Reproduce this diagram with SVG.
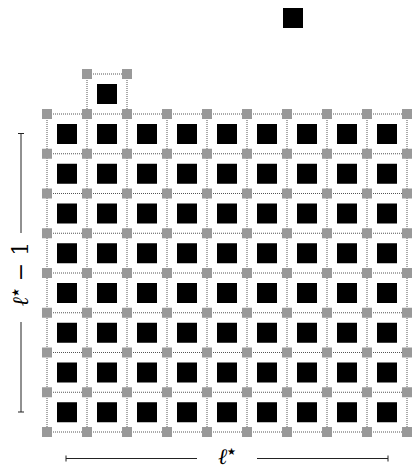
<svg xmlns="http://www.w3.org/2000/svg" xmlns:xlink="http://www.w3.org/1999/xlink" width="416" height="469" viewBox="0 0 416 469">
<style>
.grid{fill:none;stroke:#555;stroke-width:1;stroke-dasharray:1 1}
.bar{stroke:#222;stroke-width:1;fill:none}
.lbl{font-family:"DejaVu Serif","Liberation Serif",serif;font-style:italic;font-size:22px;fill:#000}
.star{font-family:"DejaVu Sans",sans-serif;font-style:normal;font-size:10px}
</style>
<defs>
<rect id="b" width="20" height="20" fill="#000"/>
<rect id="g" x="-5" y="-5" width="10" height="10" fill="#999"/>
</defs>
<rect width="416" height="469" fill="#fff"/>
<g id="connectors" class="grid">
<path d="M47 114H407M47 153.75H407M47 193.5H407M47 233.25H407M47 273H407M47 312.75H407M47 352.5H407M47 392.25H407M47 432H407"/>
<path d="M47 114V432M87 114V432M127 114V432M167 114V432M207 114V432M247 114V432M287 114V432M327 114V432M367 114V432M407 114V432"/>
<path d="M87 74H127M87 74V114M127 74V114"/>
</g>
<g id="cells">
<g id="cell-top"><use xlink:href="#b" x="97" y="84"/></g>
<g id="cell-free"><use xlink:href="#b" x="283" y="8"/></g>
<g id="row1"><use xlink:href="#b" x="57" y="124"/><use xlink:href="#b" x="97" y="124"/><use xlink:href="#b" x="137" y="124"/><use xlink:href="#b" x="177" y="124"/><use xlink:href="#b" x="217" y="124"/><use xlink:href="#b" x="257" y="124"/><use xlink:href="#b" x="297" y="124"/><use xlink:href="#b" x="337" y="124"/><use xlink:href="#b" x="377" y="124"/></g>
<g id="row2"><use xlink:href="#b" x="57" y="163.75"/><use xlink:href="#b" x="97" y="163.75"/><use xlink:href="#b" x="137" y="163.75"/><use xlink:href="#b" x="177" y="163.75"/><use xlink:href="#b" x="217" y="163.75"/><use xlink:href="#b" x="257" y="163.75"/><use xlink:href="#b" x="297" y="163.75"/><use xlink:href="#b" x="337" y="163.75"/><use xlink:href="#b" x="377" y="163.75"/></g>
<g id="row3"><use xlink:href="#b" x="57" y="203.5"/><use xlink:href="#b" x="97" y="203.5"/><use xlink:href="#b" x="137" y="203.5"/><use xlink:href="#b" x="177" y="203.5"/><use xlink:href="#b" x="217" y="203.5"/><use xlink:href="#b" x="257" y="203.5"/><use xlink:href="#b" x="297" y="203.5"/><use xlink:href="#b" x="337" y="203.5"/><use xlink:href="#b" x="377" y="203.5"/></g>
<g id="row4"><use xlink:href="#b" x="57" y="243.25"/><use xlink:href="#b" x="97" y="243.25"/><use xlink:href="#b" x="137" y="243.25"/><use xlink:href="#b" x="177" y="243.25"/><use xlink:href="#b" x="217" y="243.25"/><use xlink:href="#b" x="257" y="243.25"/><use xlink:href="#b" x="297" y="243.25"/><use xlink:href="#b" x="337" y="243.25"/><use xlink:href="#b" x="377" y="243.25"/></g>
<g id="row5"><use xlink:href="#b" x="57" y="283"/><use xlink:href="#b" x="97" y="283"/><use xlink:href="#b" x="137" y="283"/><use xlink:href="#b" x="177" y="283"/><use xlink:href="#b" x="217" y="283"/><use xlink:href="#b" x="257" y="283"/><use xlink:href="#b" x="297" y="283"/><use xlink:href="#b" x="337" y="283"/><use xlink:href="#b" x="377" y="283"/></g>
<g id="row6"><use xlink:href="#b" x="57" y="322.75"/><use xlink:href="#b" x="97" y="322.75"/><use xlink:href="#b" x="137" y="322.75"/><use xlink:href="#b" x="177" y="322.75"/><use xlink:href="#b" x="217" y="322.75"/><use xlink:href="#b" x="257" y="322.75"/><use xlink:href="#b" x="297" y="322.75"/><use xlink:href="#b" x="337" y="322.75"/><use xlink:href="#b" x="377" y="322.75"/></g>
<g id="row7"><use xlink:href="#b" x="57" y="362.5"/><use xlink:href="#b" x="97" y="362.5"/><use xlink:href="#b" x="137" y="362.5"/><use xlink:href="#b" x="177" y="362.5"/><use xlink:href="#b" x="217" y="362.5"/><use xlink:href="#b" x="257" y="362.5"/><use xlink:href="#b" x="297" y="362.5"/><use xlink:href="#b" x="337" y="362.5"/><use xlink:href="#b" x="377" y="362.5"/></g>
<g id="row8"><use xlink:href="#b" x="57" y="402.25"/><use xlink:href="#b" x="97" y="402.25"/><use xlink:href="#b" x="137" y="402.25"/><use xlink:href="#b" x="177" y="402.25"/><use xlink:href="#b" x="217" y="402.25"/><use xlink:href="#b" x="257" y="402.25"/><use xlink:href="#b" x="297" y="402.25"/><use xlink:href="#b" x="337" y="402.25"/><use xlink:href="#b" x="377" y="402.25"/></g>
</g>
<g id="joints">
<g id="joints-top"><use xlink:href="#g" x="87" y="74"/><use xlink:href="#g" x="127" y="74"/></g>
<g id="joints-r0"><use xlink:href="#g" x="47" y="114"/><use xlink:href="#g" x="87" y="114"/><use xlink:href="#g" x="127" y="114"/><use xlink:href="#g" x="167" y="114"/><use xlink:href="#g" x="207" y="114"/><use xlink:href="#g" x="247" y="114"/><use xlink:href="#g" x="287" y="114"/><use xlink:href="#g" x="327" y="114"/><use xlink:href="#g" x="367" y="114"/><use xlink:href="#g" x="407" y="114"/></g>
<g id="joints-r1"><use xlink:href="#g" x="47" y="153.75"/><use xlink:href="#g" x="87" y="153.75"/><use xlink:href="#g" x="127" y="153.75"/><use xlink:href="#g" x="167" y="153.75"/><use xlink:href="#g" x="207" y="153.75"/><use xlink:href="#g" x="247" y="153.75"/><use xlink:href="#g" x="287" y="153.75"/><use xlink:href="#g" x="327" y="153.75"/><use xlink:href="#g" x="367" y="153.75"/><use xlink:href="#g" x="407" y="153.75"/></g>
<g id="joints-r2"><use xlink:href="#g" x="47" y="193.5"/><use xlink:href="#g" x="87" y="193.5"/><use xlink:href="#g" x="127" y="193.5"/><use xlink:href="#g" x="167" y="193.5"/><use xlink:href="#g" x="207" y="193.5"/><use xlink:href="#g" x="247" y="193.5"/><use xlink:href="#g" x="287" y="193.5"/><use xlink:href="#g" x="327" y="193.5"/><use xlink:href="#g" x="367" y="193.5"/><use xlink:href="#g" x="407" y="193.5"/></g>
<g id="joints-r3"><use xlink:href="#g" x="47" y="233.25"/><use xlink:href="#g" x="87" y="233.25"/><use xlink:href="#g" x="127" y="233.25"/><use xlink:href="#g" x="167" y="233.25"/><use xlink:href="#g" x="207" y="233.25"/><use xlink:href="#g" x="247" y="233.25"/><use xlink:href="#g" x="287" y="233.25"/><use xlink:href="#g" x="327" y="233.25"/><use xlink:href="#g" x="367" y="233.25"/><use xlink:href="#g" x="407" y="233.25"/></g>
<g id="joints-r4"><use xlink:href="#g" x="47" y="273"/><use xlink:href="#g" x="87" y="273"/><use xlink:href="#g" x="127" y="273"/><use xlink:href="#g" x="167" y="273"/><use xlink:href="#g" x="207" y="273"/><use xlink:href="#g" x="247" y="273"/><use xlink:href="#g" x="287" y="273"/><use xlink:href="#g" x="327" y="273"/><use xlink:href="#g" x="367" y="273"/><use xlink:href="#g" x="407" y="273"/></g>
<g id="joints-r5"><use xlink:href="#g" x="47" y="312.75"/><use xlink:href="#g" x="87" y="312.75"/><use xlink:href="#g" x="127" y="312.75"/><use xlink:href="#g" x="167" y="312.75"/><use xlink:href="#g" x="207" y="312.75"/><use xlink:href="#g" x="247" y="312.75"/><use xlink:href="#g" x="287" y="312.75"/><use xlink:href="#g" x="327" y="312.75"/><use xlink:href="#g" x="367" y="312.75"/><use xlink:href="#g" x="407" y="312.75"/></g>
<g id="joints-r6"><use xlink:href="#g" x="47" y="352.5"/><use xlink:href="#g" x="87" y="352.5"/><use xlink:href="#g" x="127" y="352.5"/><use xlink:href="#g" x="167" y="352.5"/><use xlink:href="#g" x="207" y="352.5"/><use xlink:href="#g" x="247" y="352.5"/><use xlink:href="#g" x="287" y="352.5"/><use xlink:href="#g" x="327" y="352.5"/><use xlink:href="#g" x="367" y="352.5"/><use xlink:href="#g" x="407" y="352.5"/></g>
<g id="joints-r7"><use xlink:href="#g" x="47" y="392.25"/><use xlink:href="#g" x="87" y="392.25"/><use xlink:href="#g" x="127" y="392.25"/><use xlink:href="#g" x="167" y="392.25"/><use xlink:href="#g" x="207" y="392.25"/><use xlink:href="#g" x="247" y="392.25"/><use xlink:href="#g" x="287" y="392.25"/><use xlink:href="#g" x="327" y="392.25"/><use xlink:href="#g" x="367" y="392.25"/><use xlink:href="#g" x="407" y="392.25"/></g>
<g id="joints-r8"><use xlink:href="#g" x="47" y="432"/><use xlink:href="#g" x="87" y="432"/><use xlink:href="#g" x="127" y="432"/><use xlink:href="#g" x="167" y="432"/><use xlink:href="#g" x="207" y="432"/><use xlink:href="#g" x="247" y="432"/><use xlink:href="#g" x="287" y="432"/><use xlink:href="#g" x="327" y="432"/><use xlink:href="#g" x="367" y="432"/><use xlink:href="#g" x="407" y="432"/></g>
</g>
<g id="dim-left">
<path class="bar" d="M21 133.5V233M21 322V412M18 133.5H24M18 412H24"/>
<text class="lbl" transform="translate(28 274) rotate(-90)" text-anchor="middle">ℓ<tspan class="star" dy="-9">★</tspan><tspan dy="9" font-style="normal"> − 1</tspan></text>
</g>
<g id="dim-bottom">
<path class="bar" d="M66 458.5H197M257 458.5H388M66 455.5V461.5M388 455.5V461.5"/>
<text class="lbl" x="227" y="464" text-anchor="middle">ℓ<tspan class="star" dy="-9">★</tspan></text>
</g>
</svg>
